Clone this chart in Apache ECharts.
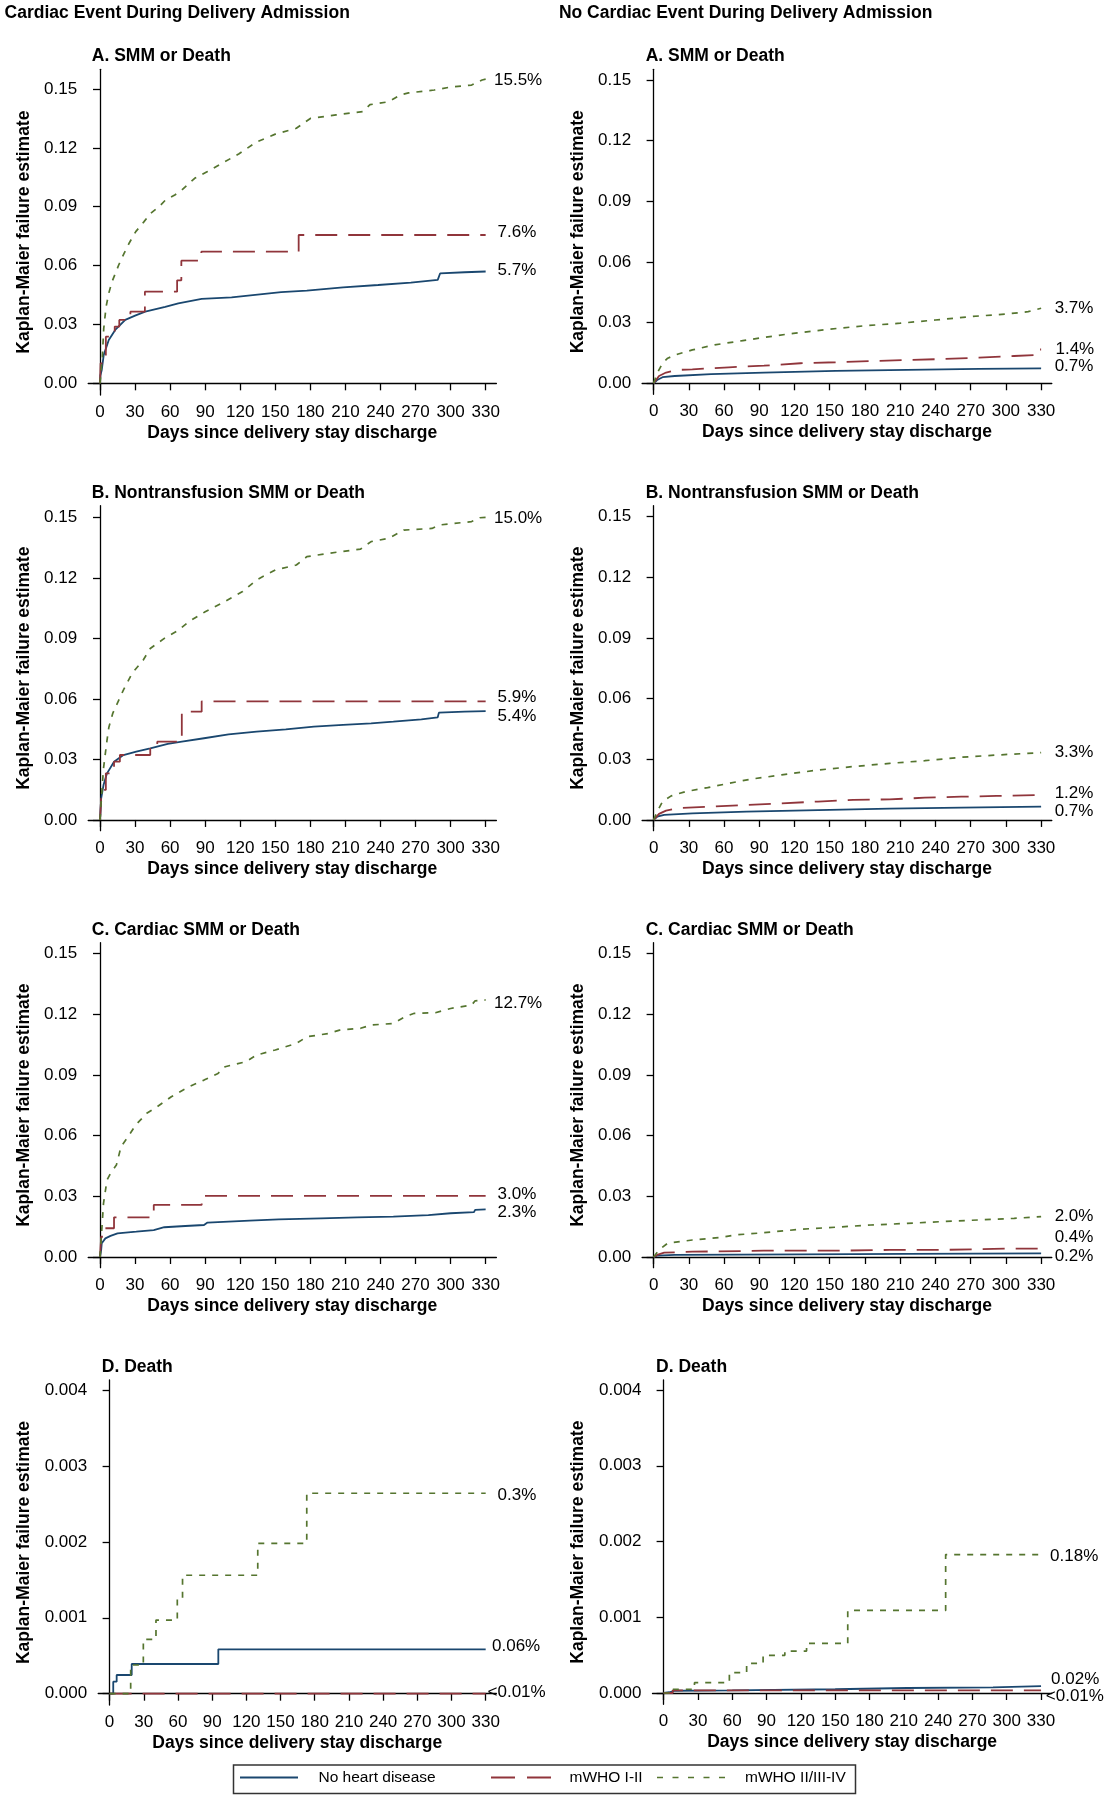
<!DOCTYPE html>
<html><head><meta charset="utf-8">
<script src="https://cdn.jsdelivr.net/npm/echarts@6/dist/echarts.min.js"></script>
<style>html,body{margin:0;padding:0;background:#fff}#c{width:1109px;height:1800px}</style>
</head><body><div id="c"></div>
<script>
// ---------------- DATA ----------------
const xTicks = [0, 30, 60, 90, 120, 150, 180, 210, 240, 270, 300, 330];
const yTicksSMM = [0, 0.03, 0.06, 0.09, 0.12, 0.15];
const yTicksDeath = [0, 0.001, 0.002, 0.003, 0.004];
const groupNames = ['No heart disease', 'mWHO I-II', 'mWHO II/III-IV'];
const columnTitles = ['Cardiac Event During Delivery Admission', 'No Cardiac Event During Delivery Admission'];
const panelTitles = ['A. SMM or Death', 'B. Nontransfusion SMM or Death', 'C. Cardiac SMM or Death', 'D. Death'];
const yAxisTitle = 'Kaplan-Maier failure estimate';
const xAxisTitle = 'Days since delivery stay discharge';

// Cardiac event during delivery admission (left column): [day, failure estimate]
const LA_none = [[0,0],[0.3,0.004],[1.5,0.0068],[3.2,0.0145],[7.5,0.0221],[13,0.0272],[21.6,0.0323],[30,0.0345],[38.7,0.0365],[55.8,0.039],[67,0.0408],[87,0.043],[112.6,0.0438],[155,0.0465],[177,0.0472],[208,0.0489],[238,0.0501],[266,0.0513],[289,0.0527],[291,0.056],[312,0.0566],[330,0.057]];
const LA_who12 = [[0,0],[0.5,0.0102],[5,0.0238],[12.6,0.0289],[16.5,0.0323],[26,0.0365],[38.4,0.0467],[66,0.0525],[69.6,0.0625],[86.7,0.0671],[170,0.0756],[330,0.0756]];
const LA_who34 = [[0,0],[2,0.0136],[3.2,0.028],[5.2,0.039],[7.5,0.0459],[10.3,0.0518],[16,0.0603],[20.6,0.0662],[24.9,0.0714],[30.6,0.0773],[37.7,0.0824],[43.3,0.0866],[50.5,0.09],[56,0.0934],[64,0.096],[70,0.0985],[81,0.1045],[92,0.108],[104,0.112],[119,0.117],[134,0.123],[150,0.127],[168,0.130],[180,0.135],[202,0.1368],[225,0.1385],[231,0.142],[247,0.1435],[257,0.147],[264,0.148],[286,0.1495],[300,0.151],[318,0.152],[327,0.1546],[330,0.155]];
const LA_labels = ['5.7%', '7.6%', '15.5%'];

const LB_none = [[0,0],[1,0.0107],[3,0.0173],[6,0.0231],[12,0.0289],[20,0.0322],[31,0.0339],[43,0.0355],[58,0.0377],[70,0.0388],[89,0.0405],[110,0.0424],[134,0.0438],[159,0.0449],[183,0.0463],[208,0.0471],[232,0.0479],[251,0.0487],[275,0.0499],[289,0.0509],[290,0.0532],[312,0.0537],[330,0.054]];
const LB_who12 = [[0,0],[1,0.0107],[3,0.0149],[5,0.0231],[12,0.0289],[17,0.0322],[43,0.0363],[49,0.0388],[70,0.0537],[87,0.0588],[330,0.0588]];
const LB_who34 = [[0,0],[1.5,0.0132],[3,0.0256],[6,0.0396],[7.6,0.046],[11,0.053],[20,0.0644],[27.5,0.0727],[37,0.0793],[43,0.085],[55,0.09],[67,0.094],[76,0.0983],[90,0.1032],[104,0.1074],[122,0.1132],[134,0.119],[150,0.1239],[168,0.1264],[177,0.1305],[196,0.1322],[223,0.1343],[232,0.138],[247,0.1396],[260,0.1437],[284,0.1445],[290,0.1462],[318,0.1479],[325,0.1498],[330,0.150]];
const LB_labels = ['5.4%', '5.9%', '15.0%'];

const LC_none = [[0,0],[1,0.0035],[1.5,0.0068],[4.6,0.0092],[9,0.0104],[15,0.0117],[31,0.0125],[46,0.0133],[55,0.0147],[73,0.0153],[89,0.0158],[92,0.017],[128,0.018],[153,0.0186],[189,0.0191],[220,0.0196],[251,0.0199],[281,0.0207],[300,0.0216],[320,0.0222],[321,0.0233],[330,0.0235]];
const LC_who12 = [[0,0],[1,0.010],[4.6,0.0142],[12,0.0196],[46,0.0257],[87,0.0302],[330,0.0302]];
const LC_who34 = [[0,0],[1.5,0.0133],[3,0.0265],[6,0.038],[9,0.0413],[14,0.0454],[18,0.0545],[24,0.0594],[30.5,0.0652],[40,0.071],[49,0.0743],[61,0.0792],[76,0.0841],[89,0.0874],[101,0.0907],[107,0.094],[125,0.0965],[134,0.0998],[150,0.1023],[168,0.1055],[177,0.1088],[196,0.1105],[205,0.1121],[223,0.113],[232,0.1146],[251,0.1154],[261,0.1187],[269,0.1204],[287,0.1207],[300,0.1228],[318,0.1245],[321,0.1266],[330,0.127]];
const LC_labels = ['2.3%', '3.0%', '12.7%'];

const LD_none = [[0,0],[3.2,0.000158],[6.2,0.000246],[19.4,0.000391],[95.4,0.000585],[330,0.000585]];
const LD_who12 = [[0,0],[330,0]];
const LD_who34 = [[0,0],[18.5,0.000378],[29.6,0.000716],[40.7,0.00097],[59.4,0.00125],[64,0.00156],[130,0.00198],[173,0.00264],[330,0.00264]];
const LD_labels = ['0.06%', '<0.01%', '0.3%'];

// No cardiac event during delivery admission (right column)
const RA_none = [[0,0],[3,0.0016],[7.6,0.003],[18,0.0036],[49,0.0045],[94,0.0053],[155,0.0061],[216,0.0066],[277,0.0071],[330,0.0074]];
const RA_who12 = [[0,0],[4.6,0.0036],[10.6,0.0053],[20,0.0066],[33,0.0069],[64,0.0079],[94,0.0087],[125,0.0099],[155,0.0104],[185,0.011],[216,0.0115],[246,0.012],[277,0.0127],[307,0.0135],[328,0.014],[329,0.0167],[330,0.0167]];
const RA_who34 = [[0,0],[3,0.0049],[7.6,0.0099],[12,0.0124],[21,0.0145],[33,0.0165],[52,0.019],[76,0.0211],[94,0.0227],[119,0.0247],[149,0.0267],[179,0.0284],[210,0.0297],[240,0.0313],[271,0.033],[301,0.0343],[319,0.0354],[330,0.0371]];
const RA_labels = ['0.7%', '1.4%', '3.7%'];

const RB_none = [[0,0],[3,0.0016],[9,0.0025],[33,0.0033],[79,0.0041],[140,0.0049],[201,0.0056],[262,0.0061],[330,0.0066]];
const RB_who12 = [[0,0],[4.6,0.003],[10.6,0.0046],[20,0.0058],[49,0.0066],[79,0.0074],[109,0.0082],[140,0.0091],[170,0.0099],[201,0.0102],[231,0.011],[262,0.0115],[292,0.0119],[330,0.0124]];
const RB_who34 = [[0,0],[3,0.0041],[7.6,0.0091],[15,0.0119],[27,0.014],[46,0.016],[64,0.0181],[82,0.0201],[109,0.0223],[140,0.0247],[170,0.0264],[201,0.028],[231,0.0293],[262,0.031],[292,0.0321],[330,0.0333]];
const RB_labels = ['0.7%', '1.2%', '3.3%'];

const RC_none = [[0,0],[3,0.0007],[18,0.001],[125,0.0013],[216,0.0015],[330,0.0018]];
const RC_who12 = [[0,0],[3,0.001],[9,0.0021],[33,0.0026],[94,0.0031],[155,0.0031],[201,0.0035],[246,0.0035],[301,0.0041],[330,0.0041]];
const RC_who34 = [[0,0],[4.6,0.0035],[12,0.0068],[33,0.0084],[58,0.0097],[70,0.0109],[94,0.012],[125,0.0137],[155,0.0147],[185,0.0158],[216,0.0166],[246,0.0175],[277,0.0183],[307,0.0191],[330,0.0199]];
const RC_labels = ['0.2%', '0.4%', '2.0%'];

const RD_none = [[0,0],[5,0.00001],[10,0.00003],[60,0.000035],[150,0.00005],[213,0.000066],[288,0.000075],[330,0.000092]];
const RD_who12 = [[0,0],[8,0.000036],[330,0.000036]];
const RD_who34 = [[0,0],[8,0.00005],[27,0.000137],[57.5,0.000269],[72.6,0.00039],[87,0.000497],[106,0.000553],[125,0.000655],[161,0.00109],[246.6,0.001827],[330,0.001827]];
const RD_labels = ['0.02%', '<0.01%', '0.18%'];

// ---------------- LAYOUT / STYLE ----------------
const FONT = '"Liberation Sans", Arial, Helvetica, sans-serif';
const colors = ['#1a476f', '#90353b', '#55752f'];
const lineTypes = ['solid', [22, 11], [6, 7]];
const lineWidths = [1.8, 1.8, 1.7];

const panels = [
  { col: 0, row: 0, series: [LA_none, LA_who12, LA_who34], labels: LA_labels, step: [false, 'end', false],
    grid: [88.2, 69.3, 408.2, 325.7], x: [-10.1, 339.2], y: [-0.00595, 0.16004], ticks: yTicksSMM, dec: 2,
    off: [[11.8, -1], [11.8, -3], [8.3, 1]] },
  { col: 1, row: 0, series: [RA_none, RA_who12, RA_who34], labels: RA_labels, step: [false, false, false],
    grid: [642.1, 69.3, 409.7, 325.0], x: [-9.8, 339.1], y: [-0.00545, 0.15526], ticks: yTicksSMM, dec: 2,
    off: [[13.5, -2], [14.3, 0], [13.5, 0]] },
  { col: 0, row: 1, series: [LB_none, LB_who12, LB_who34], labels: LB_labels, step: [false, 'end', false],
    grid: [88.2, 505.7, 408.2, 325.0], x: [-10.1, 339.2], y: [-0.00532, 0.15578], ticks: yTicksSMM, dec: 2,
    off: [[11.8, 5], [11.8, -4], [8.3, 1]] },
  { col: 1, row: 1, series: [RB_none, RB_who12, RB_who34], labels: RB_labels, step: [false, false, false],
    grid: [642.1, 505.7, 409.7, 325.0], x: [-9.8, 339.1], y: [-0.00531, 0.1554], ticks: yTicksSMM, dec: 2,
    off: [[13.5, 5], [13.5, -2], [13.5, 0]] },
  { col: 0, row: 2, series: [LC_none, LC_who12, LC_who34], labels: LC_labels, step: [false, 'end', false],
    grid: [88.2, 942.7, 408.2, 325.0], x: [-10.1, 339.2], y: [-0.0053, 0.1553], ticks: yTicksSMM, dec: 2,
    off: [[11.8, 3], [11.8, -2], [8.3, 3.6]] },
  { col: 1, row: 2, series: [RC_none, RC_who12, RC_who34], labels: RC_labels, step: [false, false, false],
    grid: [642.1, 942.7, 409.7, 325.0], x: [-9.8, 339.1], y: [-0.0053, 0.1553], ticks: yTicksSMM, dec: 2,
    off: [[13.5, 2.5], [13.5, -11], [13.5, 0]] },
  { col: 0, row: 3, series: [LD_none, LD_who12, LD_who34], labels: LD_labels, step: ['end', 'end', 'end'],
    grid: [98.2, 1380, 398.2, 325.0], x: [-10, 339.4], y: [-0.000149, 0.004132], ticks: yTicksDeath, dec: 3,
    off: [[6.3, -3], [1.8, -1.5], [11.8, 2]] },
  { col: 1, row: 3, series: [RD_none, RD_who12, RD_who34], labels: RD_labels, step: [false, 'end', 'end'],
    grid: [652.5, 1380, 399.3, 324.3], x: [-9.7, 339.4], y: [-0.000149, 0.004132], ticks: yTicksDeath, dec: 3,
    off: [[10, -7], [4.7, 6], [9, 2]] }
];

const axisLineStyle = { color: '#000', width: 1.3 };
const grids = [], xAxes = [], yAxes = [], series = [];
const boldText = { fontSize: 17.5, fontWeight: 'bold', color: '#000', fontFamily: FONT };
const titles = [
  { text: columnTitles[0], left: 4.6, top: 4, padding: 0, textStyle: boldText },
  { text: columnTitles[1], left: 558.9, top: 4, padding: 0, textStyle: boldText }
];

panels.forEach((p, pi) => {
  grids.push({ left: p.grid[0], top: p.grid[1], width: p.grid[2], height: p.grid[3], outerBoundsMode: 'none', containLabel: false });
  titles.push({ text: panelTitles[p.row], left: p.grid[0] + 3.6, top: p.grid[1] - 22, padding: 0, textStyle: boldText });
  xAxes.push({
    type: 'value', gridIndex: pi, min: p.x[0], max: p.x[1],
    name: xAxisTitle, nameLocation: 'middle', nameGap: 29,
    nameTextStyle: boldText,
    axisLine: { show: true, lineStyle: axisLineStyle },
    axisTick: { show: true, length: 7, lineStyle: axisLineStyle, customValues: xTicks },
    axisLabel: { show: true, margin: 9, fontSize: 17, color: '#000', fontFamily: FONT, customValues: xTicks, formatter: v => String(v) },
    splitLine: { show: false }
  });
  yAxes.push({
    type: 'value', gridIndex: pi, min: p.y[0], max: p.y[1],
    name: yAxisTitle, nameLocation: 'middle', nameGap: p.row === 3 ? 65 : 55,
    nameTextStyle: boldText,
    axisLine: { show: true, lineStyle: axisLineStyle },
    axisTick: { show: true, length: 7, lineStyle: axisLineStyle, customValues: p.ticks },
    axisLabel: { show: true, margin: 11, fontSize: 17, color: '#000', fontFamily: FONT, customValues: p.ticks, formatter: v => Number(v).toFixed(p.dec) },
    splitLine: { show: false }
  });
  p.series.forEach((d, si) => {
    const last = d[d.length - 1];
    series.push({
      type: 'line', name: groupNames[si], xAxisIndex: pi, yAxisIndex: pi, data: d,
      symbol: 'none', showSymbol: false, step: p.step[si], smooth: false, silent: true,
      lineStyle: { color: colors[si], width: lineWidths[si], type: lineTypes[si] },
      itemStyle: { color: colors[si] }, z: 2 + si,
      markPoint: {
        symbol: 'circle', symbolSize: 0.1, silent: true, animation: false,
        itemStyle: { color: 'rgba(0,0,0,0)' },
        label: { show: true, position: 'right', distance: 0, offset: p.off[si],
          formatter: () => p.labels[si], color: '#000', fontSize: 17, fontFamily: FONT },
        data: [{ coord: [last[0], last[1]] }]
      }
    });
  });
});

// legend keys drawn as filled paths (solid / long dash / short dash)
const legendIcons = [
  'path://M0,0H58V1.8H0Z',
  'path://M0,0H24V1.8H0Z M36,0H60V1.8H36Z',
  'path://M0,0H6V1.6H0Z M15.5,0H21.5V1.6H15.5Z M31,0H37V1.6H31Z M46.5,0H52.5V1.6H46.5Z M62,0H68V1.6H62Z'
];
const legendLayout = [
  { left: 240, w: 58, h: 1.8, pad: 15.5 },
  { left: 491, w: 60, h: 1.8, pad: 13.5 },
  { left: 657, w: 68, h: 1.6, pad: 15 }
];
const legends = groupNames.map((n, i) => ({
  data: [{ name: n, icon: legendIcons[i] }], left: legendLayout[i].left, top: 1769.5, padding: 0,
  itemWidth: legendLayout[i].w, itemHeight: legendLayout[i].h, symbolKeepAspect: false,
  selectedMode: false,
  textStyle: { fontSize: 15.5, color: '#000', fontFamily: FONT, padding: [0, 0, 0, legendLayout[i].pad] }
}));

const chart = echarts.init(document.getElementById('c'), null, { renderer: 'canvas', width: 1109, height: 1800 });
chart.setOption({
  animation: false,
  backgroundColor: '#fff',
  textStyle: { fontFamily: FONT },
  title: titles,
  legend: legends,
  grid: grids,
  xAxis: xAxes,
  yAxis: yAxes,
  series: series,
  graphic: [{ type: 'rect', silent: true, shape: { x: 233.5, y: 1765, width: 622, height: 28.5 },
    style: { fill: 'none', stroke: '#333', lineWidth: 1.5 } }]
});
</script></body></html>
